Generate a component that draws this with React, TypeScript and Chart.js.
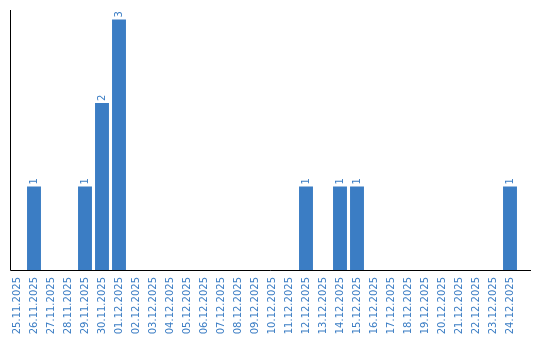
import React, { useEffect, useRef } from "react";
import { Chart, registerables } from "chart.js";

Chart.register(...registerables);

const categories: string[] = [
  "25.11.2025", "26.11.2025", "27.11.2025", "28.11.2025", "29.11.2025", "30.11.2025",
  "01.12.2025", "02.12.2025", "03.12.2025", "04.12.2025", "05.12.2025", "06.12.2025",
  "07.12.2025", "08.12.2025", "09.12.2025", "10.12.2025", "11.12.2025", "12.12.2025",
  "13.12.2025", "14.12.2025", "15.12.2025", "16.12.2025", "17.12.2025", "18.12.2025",
  "19.12.2025", "20.12.2025", "21.12.2025", "22.12.2025", "23.12.2025", "24.12.2025",
];

const counts: number[] = [
  0, 1, 0, 0, 1, 2,
  3, 0, 0, 0, 0, 0,
  0, 0, 0, 0, 0, 1,
  0, 1, 1, 0, 0, 0,
  0, 0, 0, 0, 0, 1,
];

const BLUE = "#3b7dc4";
const FONT = "'DejaVu Sans', Verdana, sans-serif";

const axesAndLabels = {
  id: "axesAndLabels",
  afterDatasetsDraw(chart: any) {
    const ctx = chart.ctx as CanvasRenderingContext2D;
    const ys = chart.scales.y;
    const area = chart.chartArea;
    const base = Math.round(ys.getPixelForValue(0)) + 0.5;
    const top = Math.round(area.top);
    ctx.save();
    ctx.strokeStyle = "#000";
    ctx.lineWidth = 1;
    ctx.beginPath();
    ctx.moveTo(10.5, top);
    ctx.lineTo(10.5, base);
    ctx.lineTo(531, base);
    ctx.stroke();

    // value labels
    const meta = chart.getDatasetMeta(0);
    ctx.fillStyle = BLUE;
    ctx.font = `10px ${FONT}`;
    ctx.textAlign = "left";
    ctx.textBaseline = "middle";
    meta.data.forEach((bar: any, i: number) => {
      const v = counts[i];
      if (!v) return;
      ctx.save();
      ctx.translate(bar.x, bar.y - 2);
      ctx.rotate(-Math.PI / 2);
      ctx.fillText(String(v), 0, 0);
      ctx.restore();
    });
    ctx.restore();
  },
};

export default function App() {
  const ref = useRef<HTMLCanvasElement | null>(null);
  useEffect(() => {
    if (!ref.current) return;
    const chart = new Chart(ref.current, {
      type: "bar",
      data: {
        labels: categories,
        datasets: [
          {
            data: counts,
            backgroundColor: BLUE,
            borderWidth: 0,
            barPercentage: 0.82,
            categoryPercentage: 1,
          },
        ],
      },
      options: {
        animation: false,
        responsive: false,
        maintainAspectRatio: false,
        layout: { padding: { left: 8.5, right: 21.5, top: 10, bottom: 0 } },
        plugins: {
          legend: { display: false },
          tooltip: { enabled: false },
          title: { display: false },
        },
        scales: {
          x: {
            offset: true,
            grid: { display: false, drawTicks: false, tickLength: 0 },
            border: { display: false },
            ticks: {
              autoSkip: false,
              maxRotation: 90,
              minRotation: 90,
              padding: 7,
              color: BLUE,
              font: { family: FONT, size: 10 },
            },
            afterFit: (scale: any) => {
              scale.height = 70;
            },
          },
          y: {
            display: false,
            min: 0,
            max: 3.115,
          },
        },
      },
      plugins: [axesAndLabels],
    });
    return () => chart.destroy();
  }, []);
  return (
    <div style={{ position: "fixed", left: 0, top: 0, width: 540, height: 340, background: "#fff" }}>
      <canvas ref={ref} width={540} height={340} style={{ width: 540, height: 340, display: "block" }} />
    </div>
  );
}
